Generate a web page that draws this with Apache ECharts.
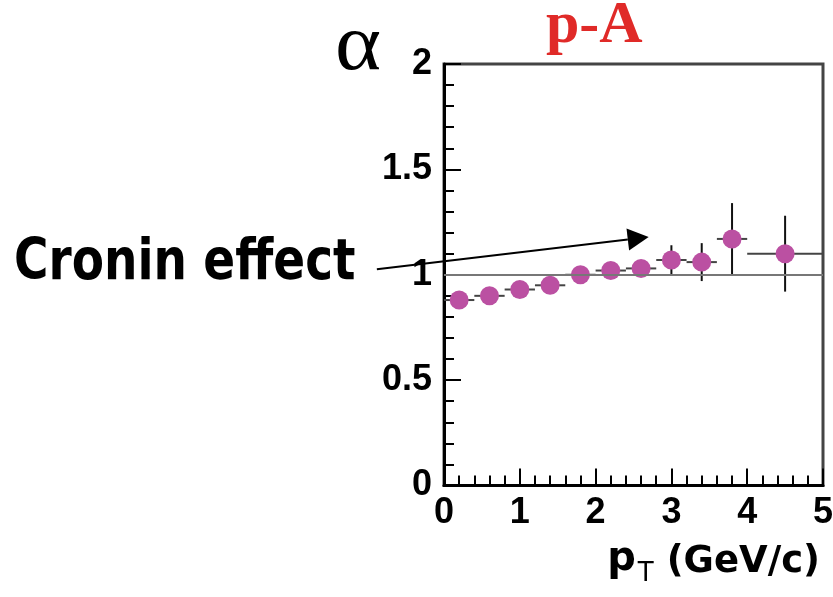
<!DOCTYPE html>
<html>
<head>
<meta charset="utf-8">
<script src="https://cdn.jsdelivr.net/npm/echarts@6/dist/echarts.min.js"></script>
<style>
  html, body { margin: 0; padding: 0; background: #fff; }
  #chart { width: 833px; height: 597px; }
</style>
</head>
<body>
<div id="chart"></div>
<script>
// Nuclear dependence exponent alpha versus transverse momentum, p-A collisions
const pT       = [0.2, 0.6, 1.0, 1.4, 1.8, 2.2, 2.6, 3.0, 3.4, 3.8, 4.5];
const alpha    = [0.88, 0.90, 0.93, 0.95, 1.00, 1.02, 1.03, 1.07, 1.06, 1.17, 1.10];
const pTErr    = [0.2, 0.2, 0.2, 0.2, 0.2, 0.2, 0.2, 0.2, 0.2, 0.2, 0.5];
const alphaErr = [0.02, 0.02, 0.02, 0.02, 0.02, 0.02, 0.03, 0.07, 0.09, 0.17, 0.18];
const xTicks   = [0, 1, 2, 3, 4, 5];
const yTicks   = [0, 0.5, 1, 1.5, 2];
const referenceLevel = 1;

// Arrow annotation end points, in axis units
const arrowFrom = [-0.886, 1.026];
const arrowTo   = [2.70, 1.179];

const chart = echarts.init(document.getElementById('chart'));

const points = pT.map((x, i) => [x, alpha[i]]);
const errors = pT.map((x, i) => [x, alpha[i], pTErr[i], alphaErr[i]]);

const tickFont = { fontFamily: 'Liberation Sans, Arial, sans-serif', fontWeight: 'bold', fontSize: 36, color: '#000' };

chart.setOption({
  animation: false,
  backgroundColor: '#fff',
  grid: {
    left: 444, right: 10, top: 64, bottom: 111.5,
    containLabel: false, outerBoundsMode: 'none',
    show: true, borderColor: '#444', borderWidth: 3, backgroundColor: 'transparent'
  },
  xAxis: {
    type: 'value', min: xTicks[0], max: xTicks[xTicks.length - 1], interval: 1,
    axisLine: { lineStyle: { color: '#000', width: 3 } },
    axisTick: { inside: true, length: 17, lineStyle: { color: '#000', width: 2 } },
    minorTick: { show: true, splitNumber: 5, length: 10, lineStyle: { color: '#000', width: 2 } },
    splitLine: { show: false },
    axisLabel: Object.assign({ margin: 10 }, tickFont)
  },
  yAxis: {
    type: 'value', min: yTicks[0], max: yTicks[yTicks.length - 1], interval: 0.5,
    axisLine: { lineStyle: { color: '#000', width: 3 } },
    axisTick: { inside: true, length: 17, lineStyle: { color: '#000', width: 2 } },
    minorTick: { show: true, splitNumber: 5, length: 10, lineStyle: { color: '#000', width: 2 } },
    splitLine: { show: false },
    axisLabel: Object.assign({ margin: 12 }, tickFont)
  },
  series: [
    {
      type: 'custom',
      data: errors,
      z: 3,
      renderItem: function (params, api) {
        const x = api.value(0), y = api.value(1), dx = api.value(2), dy = api.value(3);
        const l = api.coord([x - dx, y]);
        const r = api.coord([x + dx, y]);
        const t = api.coord([x, y + dy]);
        const b = api.coord([x, y - dy]);
        return {
          type: 'group',
          children: [
            { type: 'line', shape: { x1: l[0], y1: l[1], x2: r[0], y2: r[1] }, style: { stroke: '#444', lineWidth: 2 } },
            { type: 'line', shape: { x1: t[0], y1: t[1], x2: b[0], y2: b[1] }, style: { stroke: '#111', lineWidth: 2 } }
          ]
        };
      }
    },
    {
      type: 'scatter',
      data: points,
      z: 4,
      symbol: 'circle',
      symbolSize: 19,
      itemStyle: { color: '#bb50a2', opacity: 1 },
      markLine: {
        silent: true,
        symbol: 'none',
        label: { show: false },
        lineStyle: { color: '#777', width: 2, type: 'solid' },
        data: [{ yAxis: referenceLevel }]
      }
    }
  ]
});

// Annotations: axis titles, panel title, arrow with caption
const p0 = chart.convertToPixel({ gridIndex: 0 }, arrowFrom);
const p1 = chart.convertToPixel({ gridIndex: 0 }, arrowTo);
const ang = Math.atan2(p1[1] - p0[1], p1[0] - p0[0]);
const headLen = 21, headHalf = 11;
const bx = p1[0] - headLen * Math.cos(ang), by = p1[1] - headLen * Math.sin(ang);
const nx = -Math.sin(ang), ny = Math.cos(ang);

chart.setOption({
  graphic: [
    {
      type: 'text', x: 335, y: 8, scaleX: 1.1,
      style: { text: 'α', font: '80px "Liberation Serif", serif', fill: '#000', verticalAlign: 'top' }
    },
    {
      type: 'text', right: 13, top: 540,
      style: {
        text: '{p|p}{t|T}{u| (GeV/c)}',
        rich: {
          p: { fontFamily: 'DejaVu Sans, sans-serif', fontWeight: 'bold', fontSize: 40, fill: '#000', padding: [0, 0, 4, 0] },
          t: { fontFamily: 'DejaVu Sans, sans-serif', fontSize: 26, fill: '#000', padding: [24, 0, 0, 2] },
          u: { fontFamily: 'DejaVu Sans, sans-serif', fontWeight: 'bold', fontSize: 37, fill: '#000' }
        }
      }
    },
    {
      type: 'text', left: 546, top: -4,
      style: { text: 'p-A', font: 'bold 60px "Liberation Serif", serif', fill: '#e02a28' }
    },
    {
      type: 'text', x: 14, y: 236, scaleY: 1.2,
      style: { text: 'Cronin effect', font: 'bold 47px "DejaVu Sans", sans-serif', fill: '#000', verticalAlign: 'top' }
    },
    {
      type: 'line',
      shape: { x1: p0[0], y1: p0[1], x2: bx, y2: by },
      style: { stroke: '#000', lineWidth: 2 }
    },
    {
      type: 'polygon',
      shape: { points: [[p1[0], p1[1]], [bx + nx * headHalf, by + ny * headHalf], [bx - nx * headHalf, by - ny * headHalf]] },
      style: { fill: '#000' }
    }
  ]
});
</script>
</body>
</html>
